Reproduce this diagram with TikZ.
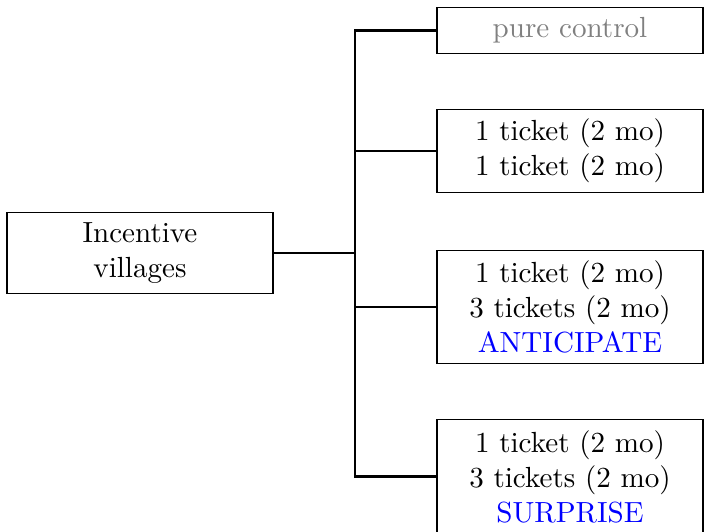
\documentclass[tikz,border=0pt]{standalone}
\usetikzlibrary{positioning}
\begin{document}
\begin{tikzpicture}[x=0.3436pt,y=-0.3436pt,
  box/.style={draw,text width=2.98cm,align=center,inner sep=3.33pt,font=\normalsize},
  conn/.style={thick}]
\useasboundingbox (0,0) rectangle (704,531);
\node[box] (inc) at (140,253) {Incentive\\villages};
\node[box,text=gray] (b1) at (570,30.5) {pure control};
\node[box] (b2) at (570,151) {1 ticket (2 mo)\\1 ticket (2 mo)};
\node[box,minimum height=39pt] (b3) at (570,307) {1 ticket (2 mo)\\3 tickets (2 mo)\\\textcolor{blue}{ANTICIPATE}};
\node[box,minimum height=39pt] (b4) at (570,476.5) {1 ticket (2 mo)\\3 tickets (2 mo)\\\textcolor{blue}{SURPRISE}};
\coordinate (j) at (355,253);
\coordinate (t) at (355,30.5);
\coordinate (bt) at (355,476.5);
\draw[conn] (inc.east) -- (j);
\draw[conn] (b1.west) -- (t) -- (bt) -- (b4.west);
\draw[conn] (b2.west) -- (b2.west -| j);
\draw[conn] (b3.west) -- (b3.west -| j);
\end{tikzpicture}
\end{document}
